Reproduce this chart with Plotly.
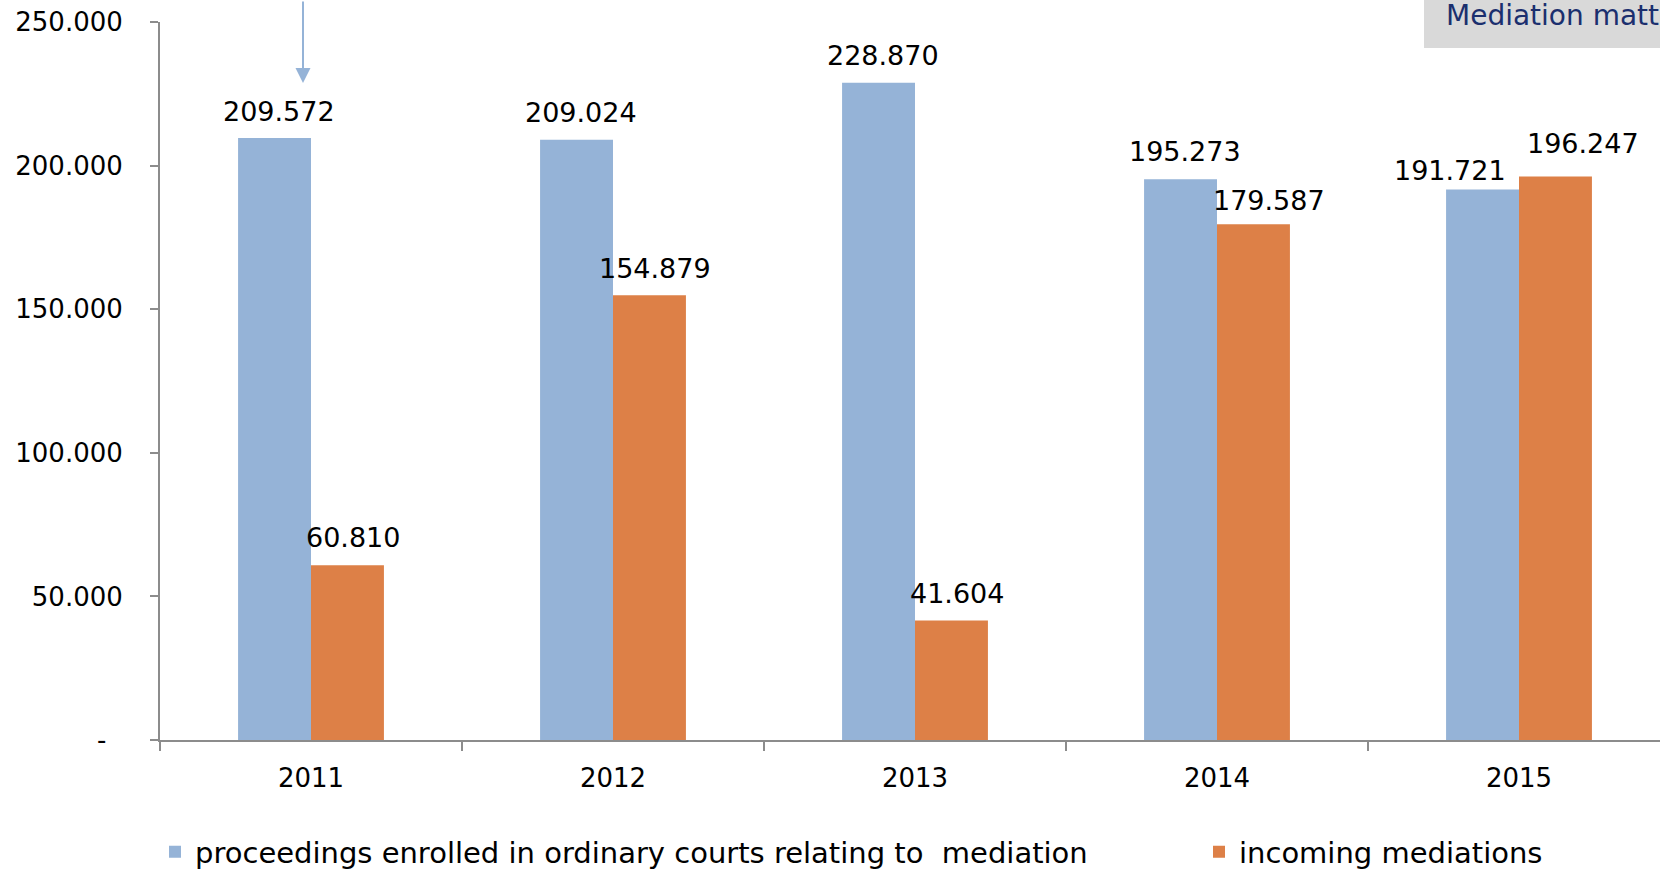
import plotly.graph_objects as go

years = ["2011", "2012", "2013", "2014", "2015"]
proceedings = [209572, 209024, 228870, 195273, 191721]
incoming = [60810, 154879, 41604, 179587, 196247]
series_names = ["proceedings enrolled in ordinary courts relating to  mediation",
                "incoming mediations"]
y_tickvals = [0, 50000, 100000, 150000, 200000, 250000]
y_ticktext = ["-\u00a0\u00a0", "50.000", "100.000", "150.000", "200.000", "250.000"]
title_text = "Mediation matters"

BLUE = "#95b3d7"
ORANGE = "#dd8047"
FONT = "DejaVu Sans"
AXIS = "#8c8c8c"

def fmt(v):
    return f"{v:,}".replace(",", ".")

W, H = 1660, 869
ML, MT, MB = 160, 22, 129
plot_w = W - ML
plot_h = H - MT - MB

fig = go.Figure()
fig.add_trace(go.Bar(x=years, y=proceedings, name=series_names[0], legendwidth=999,
                     marker=dict(color=BLUE, line=dict(width=0))))
fig.add_trace(go.Bar(x=years, y=incoming, name=series_names[1], legendwidth=300,
                     marker=dict(color=ORANGE, line=dict(width=0))))

# data labels (label nudges are style only)
bar_half = 37
dx = [[5, 5, 5, 5, -32], [5, 5, 5, 15, 27]]
dy = [[27, 27, 27, 28, 19], [28, 27, 27, 24, 33]]
annotations = []
for s, vals in enumerate([proceedings, incoming]):
    sign = -1 if s == 0 else 1
    for i, v in enumerate(vals):
        annotations.append(dict(x=i, y=v, xref="x", yref="y", text=fmt(v),
                                showarrow=False, xanchor="center", yanchor="middle",
                                xshift=sign * bar_half + dx[s][i], yshift=dy[s][i],
                                font=dict(family=FONT, size=27, color="black")))

# arrow at top
annotations.append(dict(x=(303 - ML) / plot_w, y=(H - MB - 83) / plot_h,
                        xref="paper", yref="paper", text="", showarrow=True,
                        ax=0, ay=-95, arrowhead=2, arrowsize=1.5, arrowwidth=2,
                        arrowcolor=BLUE))
# title box text
annotations.append(dict(x=(1444 - ML) / plot_w, y=(H - MB - 16) / plot_h,
                        xref="paper", yref="paper", text=title_text, showarrow=False,
                        xanchor="left", yanchor="middle",
                        font=dict(family=FONT, size=28, color="#1b2f6e")))

shapes = [dict(type="rect", xref="paper", yref="paper",
               x0=(1424 - ML) / plot_w, x1=1.05,
               y0=(H - MB - 48) / plot_h, y1=(H - MB + 5) / plot_h,
               fillcolor="#d9d9d9", line=dict(width=0), layer="below")]

cat_w = 302
fig.update_layout(
    width=W, height=H,
    margin=dict(l=ML, r=0, t=MT, b=MB, autoexpand=False),
    plot_bgcolor="white", paper_bgcolor="white",
    barmode="group", bargap=0.517, bargroupgap=0,
    font=dict(family=FONT, size=26, color="black"),
    showlegend=True,
    legend=dict(orientation="h", x=(155 - ML) / plot_w, y=(H - MB - 852) / plot_h,
                xanchor="left", yanchor="middle",
                font=dict(family=FONT, size=29, color="black"), traceorder="normal"),
    annotations=annotations, shapes=shapes,
    xaxis=dict(type="category", range=[-0.5, -0.5 + plot_w / cat_w],
               showline=True, linecolor=AXIS, linewidth=2,
               ticks="outside", ticklen=9, tickcolor=AXIS, tickwidth=2,
               tickson="boundaries", showgrid=False, zeroline=False,
               tickfont=dict(family=FONT, size=26, color="black"),
               ticklabelstandoff=14),
    yaxis=dict(range=[0, 250000], tickvals=y_tickvals, ticktext=y_ticktext,
               showline=True, linecolor=AXIS, linewidth=2,
               ticks="outside", ticklen=8, tickcolor=AXIS, tickwidth=2,
               showgrid=False, zeroline=False,
               tickfont=dict(family=FONT, size=26, color="black"),
               ticklabelstandoff=22),
)

fig.write_html("out.html", config={"displayModeBar": False},
               post_script="document.body.style.margin='0';")
